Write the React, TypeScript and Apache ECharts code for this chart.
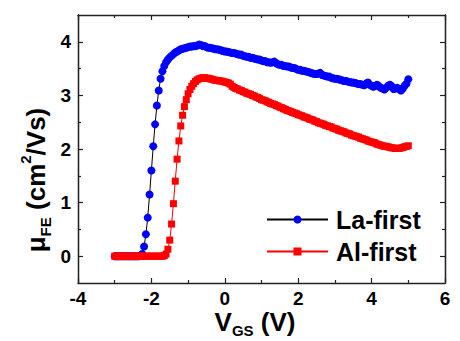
import React, { useEffect, useRef } from "react";
import * as echarts from "echarts";

// Gate voltage sweep (V)
const vgs = [
  -3, -2.95, -2.9, -2.85, -2.8, -2.75, -2.7, -2.65, -2.6, -2.55,
  -2.5, -2.45, -2.4, -2.35, -2.3, -2.25, -2.2, -2.15, -2.1, -2.05,
  -2, -1.95, -1.9, -1.85, -1.8, -1.75, -1.7, -1.65, -1.6, -1.55,
  -1.5, -1.45, -1.4, -1.35, -1.3, -1.25, -1.2, -1.15, -1.1, -1.05,
  -1, -0.95, -0.9, -0.85, -0.8, -0.75, -0.7, -0.65, -0.6, -0.55,
  -0.5, -0.45, -0.4, -0.35, -0.3, -0.25, -0.2, -0.15, -0.1, -0.05,
  0, 0.05, 0.1, 0.15, 0.2, 0.25, 0.3, 0.35, 0.4, 0.45,
  0.5, 0.55, 0.6, 0.65, 0.7, 0.75, 0.8, 0.85, 0.9, 0.95,
  1, 1.05, 1.1, 1.15, 1.2, 1.25, 1.3, 1.35, 1.4, 1.45,
  1.5, 1.55, 1.6, 1.65, 1.7, 1.75, 1.8, 1.85, 1.9, 1.95,
  2, 2.05, 2.1, 2.15, 2.2, 2.25, 2.3, 2.35, 2.4, 2.45,
  2.5, 2.55, 2.6, 2.65, 2.7, 2.75, 2.8, 2.85, 2.9, 2.95,
  3, 3.05, 3.1, 3.15, 3.2, 3.25, 3.3, 3.35, 3.4, 3.45,
  3.5, 3.55, 3.6, 3.65, 3.7, 3.75, 3.8, 3.85, 3.9, 3.95,
  4, 4.05, 4.1, 4.15, 4.2, 4.25, 4.3, 4.35, 4.4, 4.45,
  4.5, 4.55, 4.6, 4.65, 4.7, 4.75, 4.8, 4.85, 4.9, 4.95,
  5,
];

// La-first mobility (cm2/Vs)
const laFirst = [
  0, 0, 0, 0, 0, 0, 0, 0, 0, 0,
  0, 0, 0, 0, 0.01, 0.04, 0.18, 0.41, 0.72, 1.15,
  1.6, 2.05, 2.46, 2.81, 3.09, 3.31, 3.45, 3.55, 3.62, 3.67,
  3.71, 3.74, 3.77, 3.8, 3.82, 3.84, 3.86, 3.87, 3.88, 3.89,
  3.9, 3.91, 3.91, 3.92, 3.92, 3.93, 3.95, 3.94, 3.92, 3.92,
  3.9, 3.89, 3.89, 3.88, 3.87, 3.86, 3.86, 3.85, 3.84, 3.83,
  3.82, 3.82, 3.81, 3.8, 3.79, 3.79, 3.78, 3.77, 3.76, 3.76,
  3.74, 3.73, 3.72, 3.72, 3.7, 3.7, 3.69, 3.68, 3.67, 3.67,
  3.65, 3.64, 3.64, 3.62, 3.62, 3.61, 3.62, 3.63, 3.6, 3.58,
  3.57, 3.57, 3.55, 3.55, 3.54, 3.54, 3.52, 3.51, 3.51, 3.49,
  3.48, 3.48, 3.46, 3.46, 3.45, 3.44, 3.43, 3.42, 3.41, 3.4,
  3.4, 3.41, 3.42, 3.38, 3.37, 3.36, 3.35, 3.35, 3.33, 3.32,
  3.31, 3.31, 3.3, 3.29, 3.28, 3.27, 3.27, 3.26, 3.25, 3.24,
  3.24, 3.23, 3.22, 3.21, 3.21, 3.2, 3.19, 3.22, 3.24, 3.2,
  3.18, 3.16, 3.18, 3.2, 3.17, 3.14, 3.13, 3.11, 3.14, 3.18,
  3.2, 3.17, 3.12, 3.13, 3.14, 3.12, 3.09, 3.13, 3.18, 3.22,
  3.3,
];

// Al-first mobility (cm2/Vs)
const alFirst = [
  0, 0, 0, 0, 0, 0, 0, 0, 0, 0,
  0, 0, 0, 0, 0, 0, 0, 0, 0, 0,
  0, 0, 0, 0, 0, 0, 0, 0.01, 0.04, 0.13,
  0.3, 0.6, 0.98, 1.4, 1.81, 2.15, 2.43, 2.63, 2.79, 2.92,
  3.03, 3.11, 3.17, 3.22, 3.26, 3.29, 3.31, 3.32, 3.33, 3.33,
  3.32, 3.32, 3.31, 3.3, 3.29, 3.28, 3.28, 3.27, 3.27, 3.26,
  3.25, 3.24, 3.23, 3.21, 3.17, 3.15, 3.13, 3.12, 3.1, 3.09,
  3.07, 3.06, 3.04, 3.03, 3.02, 3.0, 2.99, 2.97, 2.96, 2.94,
  2.92, 2.91, 2.9, 2.88, 2.87, 2.85, 2.84, 2.83, 2.81, 2.8,
  2.78, 2.77, 2.75, 2.74, 2.72, 2.71, 2.7, 2.68, 2.67, 2.66,
  2.64, 2.63, 2.62, 2.6, 2.59, 2.58, 2.56, 2.55, 2.54, 2.52,
  2.51, 2.49, 2.48, 2.47, 2.46, 2.44, 2.43, 2.42, 2.41, 2.39,
  2.38, 2.37, 2.35, 2.34, 2.33, 2.32, 2.3, 2.29, 2.28, 2.26,
  2.25, 2.24, 2.23, 2.22, 2.2, 2.19, 2.18, 2.17, 2.15, 2.14,
  2.13, 2.12, 2.11, 2.09, 2.08, 2.07, 2.06, 2.05, 2.05, 2.04,
  2.03, 2.02, 2.02, 2.01, 2.01, 2.01, 2.02, 2.03, 2.04, 2.05,
  2.06,
];

const seriesNames = ["La-first", "Al-first"];
const yMajorTicks = [0, 1, 2, 3, 4];
const yMinorTicks = [0.5, 1.5, 2.5, 3.5];

const FONT = "'Liberation Sans', Arial, Helvetica, sans-serif";
const AXIS_COLOR = "#222";

export default function App() {
  const ref = useRef<HTMLDivElement>(null);

  useEffect(() => {
    document.body.style.margin = "0";
    const chart = echarts.init(ref.current as HTMLDivElement, null, { renderer: "svg" });

    const axisLine = { show: true, onZero: false, lineStyle: { color: AXIS_COLOR, width: 1.3 } };
    const tickStyle = { color: AXIS_COLOR, width: 1.2 };
    const labelStyle = { fontFamily: FONT, fontWeight: "bold", fontSize: 19, color: "#000" };

    const xBase = {
      type: "value",
      min: -4,
      max: 6,
      interval: 2,
      splitLine: { show: false },
      axisLine,
      axisTick: { show: true, inside: true, length: 5, lineStyle: tickStyle },
      minorTick: { show: true, splitNumber: 2, length: 3, lineStyle: tickStyle },
    };
    const yBase = {
      type: "value",
      min: -0.5,
      max: 4.5,
      splitLine: { show: false },
      axisLine,
    };

    const xRich = {
      n: { fill: "#000", fontFamily: FONT, fontWeight: "bold", fontSize: 26, lineHeight: 32, verticalAlign: "middle" },
      s: { fill: "#000", fontFamily: FONT, fontWeight: "bold", fontSize: 15, lineHeight: 15, verticalAlign: "bottom", padding: [0, 0, 0, 0] },
    };
    const yRich = {
      n: { fill: "#000", fontFamily: FONT, fontWeight: "bold", fontSize: 26, lineHeight: 40, verticalAlign: "middle" },
      s: { fill: "#000", fontFamily: FONT, fontWeight: "bold", fontSize: 15, lineHeight: 15, verticalAlign: "bottom", padding: [0, 0, 3, 0] },
      p: { fill: "#000", fontFamily: FONT, fontWeight: "bold", fontSize: 15, lineHeight: 15, verticalAlign: "top", padding: [2, 0, 0, 0] },
    };

    chart.setOption({
      animation: false,
      grid: { left: 78, right: 15, top: 15, bottom: 58, containLabel: false },
      legend: {
        orient: "vertical",
        left: 266,
        top: 207,
        padding: 0,
        itemWidth: 61,
        itemHeight: 10,
        itemGap: 7,
        data: seriesNames,
        textStyle: { fontFamily: FONT, fontWeight: "bold", fontSize: 25, color: "#000", lineHeight: 25, padding: [0, 0, 0, 3] },
      },
      xAxis: [
        { ...xBase, position: "bottom", axisLabel: { ...labelStyle, margin: 6 } },
        { ...xBase, position: "top", axisLabel: { show: false } },
      ],
      yAxis: [
        {
          ...yBase,
          position: "left",
          axisTick: { show: true, inside: true, length: 5, lineStyle: tickStyle, customValues: yMajorTicks },
          axisLabel: { ...labelStyle, margin: 7, customValues: yMajorTicks },
        },
        {
          ...yBase,
          position: "left",
          axisTick: { show: true, inside: true, length: 3, lineStyle: tickStyle, customValues: yMinorTicks },
          axisLabel: { show: false },
        },
        {
          ...yBase,
          position: "right",
          axisTick: { show: true, inside: true, length: 5, lineStyle: tickStyle, customValues: yMajorTicks },
          axisLabel: { show: false },
        },
        {
          ...yBase,
          position: "right",
          axisTick: { show: true, inside: true, length: 3, lineStyle: tickStyle, customValues: yMinorTicks },
          axisLabel: { show: false },
        },
      ],
      graphic: [
        {
          type: "text",
          x: 255,
          y: 322,
          silent: true,
          style: { text: "{n|V}{s|GS}{n| (V)}", align: "center", verticalAlign: "middle", rich: xRich },
        },
        {
          type: "text",
          x: 36,
          y: 180,
          rotation: Math.PI / 2,
          silent: true,
          style: { text: "{n|μ}{s|FE}{n| (cm}{p|2}{n|/Vs)}", align: "center", verticalAlign: "middle", rich: yRich },
        },
      ],
      series: [
        {
          name: seriesNames[0],
          type: "line",
          xAxisIndex: 0,
          yAxisIndex: 0,
          data: vgs.map((v, i) => [v, laFirst[i]]),
          symbol: "circle",
          symbolSize: 8,
          showSymbol: true,
          lineStyle: { color: "#000", width: 1 },
          itemStyle: { color: "#0000ff", borderWidth: 0 },
          emphasis: { disabled: true },
          z: 2,
        },
        {
          name: seriesNames[1],
          type: "line",
          xAxisIndex: 0,
          yAxisIndex: 0,
          data: vgs.map((v, i) => [v, alFirst[i]]),
          symbol: "rect",
          symbolSize: 7,
          showSymbol: true,
          lineStyle: { color: "#ff0000", width: 1 },
          itemStyle: { color: "#ff0000", borderWidth: 0 },
          emphasis: { disabled: true },
          z: 3,
        },
      ],
    });

    return () => chart.dispose();
  }, []);

  return <div ref={ref} style={{ width: 460, height: 341 }} />;
}
